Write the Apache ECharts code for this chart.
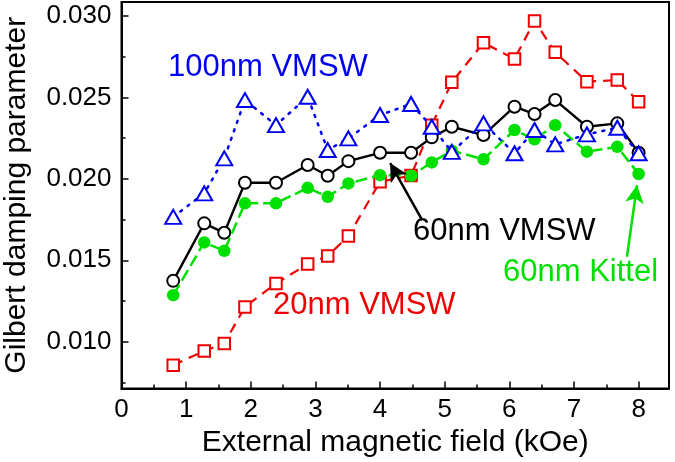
<!DOCTYPE html>
<html>
<head>
<meta charset="utf-8">
<script src="https://cdn.jsdelivr.net/npm/echarts@6/dist/echarts.min.js"></script>
<style>html,body{margin:0;padding:0;background:#fff}#c{width:675px;height:462px}</style>
</head>
<body>
<div id="c"></div>
<script>
// ---- data ----
var fieldKOe = [0.80, 1.28, 1.59, 1.91, 2.39, 2.88, 3.19, 3.51, 4.00, 4.48, 4.80, 5.11, 5.60, 6.08, 6.39, 6.71, 7.20, 7.67, 8.00];
var vmsw100 = [0.01767, 0.01911, 0.02126, 0.02484, 0.02330, 0.02504, 0.02177, 0.02249, 0.02392, 0.02460, 0.02320, 0.02166, 0.02341, 0.02157, 0.02300, 0.02212, 0.02273, 0.02314, 0.02157];
var vmsw60 = [0.01374, 0.01727, 0.01669, 0.01976, 0.01976, 0.02085, 0.02019, 0.02109, 0.02160, 0.02160, 0.02255, 0.02320, 0.02269, 0.02443, 0.02398, 0.02484, 0.02320, 0.02341, 0.02160];
var kittel60 = [0.01286, 0.01610, 0.01558, 0.01850, 0.01850, 0.01945, 0.01890, 0.01972, 0.02023, 0.02019, 0.02101, 0.02173, 0.02120, 0.02300, 0.02243, 0.02330, 0.02167, 0.02197, 0.02030];
var vmsw20 = [0.00856, 0.00944, 0.00990, 0.01214, 0.01358, 0.01477, 0.01526, 0.01649, 0.01982, 0.02020, 0.02330, 0.02593, 0.02836, 0.02736, 0.02970, 0.02777, 0.02597, 0.02607, 0.02474];
var yMajorTicks = [0.010, 0.015, 0.020, 0.025, 0.030];
var yMinorTicks = [0.0075, 0.0125, 0.0175, 0.0225, 0.0275];
// annotation arrows in data coordinates: [tail, tip]
var arrow60VMSW = [[4.652, 0.01747], [4.156, 0.02097]];
var arrow60Kittel = [[7.82, 0.01522], [7.975, 0.01962]];

function pairs(xs, ys) { return xs.map(function (x, i) { return [x, ys[i]]; }); }

var FONT = 'Liberation Sans, Arial, sans-serif';
var BLUE = '#0000f0', RED = '#ee0000', GREEN = '#00e000', BLACK = '#000000';
var yMin = 0.00713, yMax = 0.03086;

var chart = echarts.init(document.getElementById('c'), null, { renderer: 'canvas' });

function arrowLine(pts, color) {
  return {
    silent: true,
    symbol: ['none', 'arrow'],
    symbolSize: [14, 18],
    label: { show: false },
    lineStyle: { color: color, width: 2.5, type: 'solid' },
    data: [[{ coord: pts[0] }, { coord: pts[1] }]]
  };
}

var option = {
  animation: false,
  backgroundColor: '#fff',
  grid: { left: 121.5, right: 6, top: 2, bottom: 73.5, show: true, borderColor: '#000', borderWidth: 2,
    backgroundColor: 'transparent', containLabel: false, outerBoundsMode: 'none' },
  xAxis: {
    type: 'value', min: 0, max: 8.47, interval: 1,
    name: 'External magnetic field (kOe)', nameLocation: 'middle', nameGap: 38,
    nameTextStyle: { fontFamily: FONT, fontSize: 30, color: '#000' },
    axisLine: { show: true, lineStyle: { color: '#000', width: 2 } },
    axisTick: { show: true, inside: true, length: 7, lineStyle: { color: '#000', width: 1.5 } },
    minorTick: { show: true, splitNumber: 2, length: 4, lineStyle: { color: '#000', width: 1.5 } },
    axisLabel: { fontFamily: FONT, fontSize: 26, color: '#000', margin: 8 },
    splitLine: { show: false }
  },
  yAxis: [{
    type: 'value', min: yMin, max: yMax,
    name: 'Gilbert damping parameter', nameLocation: 'middle', nameGap: 90,
    nameTextStyle: { fontFamily: FONT, fontSize: 30, color: '#000' },
    axisLine: { show: true, lineStyle: { color: '#000', width: 2 } },
    axisTick: { show: true, inside: true, length: 7, customValues: yMajorTicks, lineStyle: { color: '#000', width: 1.5 } },
    axisLabel: { fontFamily: FONT, fontSize: 26, color: '#000', margin: 10, customValues: yMajorTicks,
      formatter: function (v) { return v.toFixed(3); } },
    splitLine: { show: false }
  }, {
    type: 'value', min: yMin, max: yMax, position: 'left',
    axisLine: { show: false },
    axisTick: { show: true, inside: true, length: 4, customValues: yMinorTicks, lineStyle: { color: '#000', width: 1.5 } },
    axisLabel: { show: false, customValues: yMinorTicks },
    splitLine: { show: false }
  }],
  series: [
    {
      name: '20nm VMSW', type: 'line', z: 2, data: pairs(fieldKOe, vmsw20),
      symbol: 'rect', symbolSize: 11.5,
      itemStyle: { color: '#fff', borderColor: RED, borderWidth: 2 },
      lineStyle: { color: RED, width: 2.2, type: [10, 7] }
    },
    {
      name: '60nm VMSW', type: 'line', z: 3, data: pairs(fieldKOe, vmsw60),
      symbol: 'circle', symbolSize: 12,
      itemStyle: { color: '#fff', borderColor: BLACK, borderWidth: 2 },
      lineStyle: { color: BLACK, width: 2.4, type: 'solid' },
      markLine: arrowLine(arrow60VMSW, BLACK)
    },
    {
      name: '60nm Kittel', type: 'line', z: 4, data: pairs(fieldKOe, kittel60),
      symbol: 'circle', symbolSize: 12.5,
      itemStyle: { color: GREEN, borderColor: GREEN, borderWidth: 0 },
      lineStyle: { color: GREEN, width: 2.5, type: [12, 5] },
      markLine: arrowLine(arrow60Kittel, GREEN)
    },
    {
      name: '100nm VMSW', type: 'line', z: 5, data: pairs(fieldKOe, vmsw100),
      symbol: 'triangle', symbolSize: [16, 14],
      itemStyle: { color: '#fff', borderColor: BLUE, borderWidth: 2 },
      lineStyle: { color: BLUE, width: 2.5, type: [2, 7], cap: 'round' }
    }
  ],
  graphic: [
    { type: 'text', left: 168, top: 52, style: { text: '100nm VMSW', fill: BLUE, font: '31px ' + FONT } },
    { type: 'text', left: 413, top: 216, style: { text: '60nm VMSW', fill: BLACK, font: '31px ' + FONT } },
    { type: 'text', left: 503, top: 257, style: { text: '60nm Kittel', fill: GREEN, font: '31px ' + FONT } },
    { type: 'text', left: 273, top: 290, style: { text: '20nm VMSW', fill: RED, font: '31px ' + FONT } }
  ]
};
chart.setOption(option);
</script>
</body>
</html>
